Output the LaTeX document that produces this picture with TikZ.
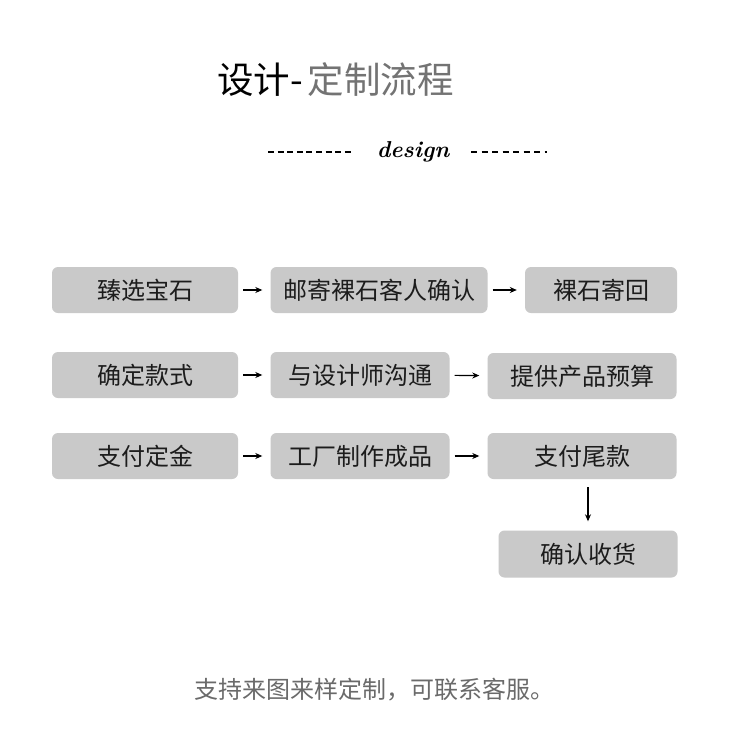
\documentclass[tikz,border=0pt]{standalone}
\usepackage{fontspec}
\newfontfamily\cjk{Noto Sans CJK SC}
\usepackage{xcolor}
\usepackage{tikz}
\usetikzlibrary{arrows.meta}

\definecolor{boxgray}{HTML}{C9C9C9}
\definecolor{textdark}{HTML}{1C1C1C}
\definecolor{titlegray}{HTML}{737373}
\definecolor{notegray}{HTML}{6A6A6A}

\begin{document}
\begin{tikzpicture}[
    x=1pt, y=-1pt,
    box/.style={fill=boxgray, rounded corners=6pt, minimum height=46pt,
                inner sep=0pt, text=textdark,
                font=\cjk\fontsize{24}{24}\selectfont},
    arrow/.style={-{Stealth[length=7pt,width=6pt]}, line width=1.1pt,
                  shorten <=5pt, shorten >=8pt}
]
\useasboundingbox[fill=white] (0,0) rectangle (750,750);

% title
\node[anchor=west, inner sep=0pt, font=\cjk\fontsize{36.5}{36.5}\selectfont] (title) at (217,80)
    {设计-\hspace{5pt}\textcolor{titlegray}{定制流程}};
\node[inner sep=0pt, font=\rmfamily\itshape\bfseries\fontsize{23}{23}\selectfont] (design) at (413,152) {design};
\coordinate (l1) at (268,152);
\coordinate (r2) at (547,152);
\draw[line width=1.1pt, dash pattern=on 6pt off 3.6pt] (l1) -- (design.west -| 353,0);
\draw[line width=1.1pt, dash pattern=on 6pt off 4.5pt] (design.east -| 471,0) -- (r2);

% row 1
\node[box, minimum width=186pt] (select) at (145,290) {臻选宝石};
\node[box, minimum width=217pt] (mail) at (379,290) {邮寄裸石客人确认};
\node[box, minimum width=152pt] (back) at (601,290) {裸石寄回};
% row 2
\node[box, minimum width=186pt] (style) at (145,375) {确定款式};
\node[box, minimum width=179pt] (talk) at (360,375) {与设计师沟通};
\node[box, minimum width=189pt] (budget) at (582,376) {提供产品预算};
% row 3
\node[box, minimum width=186pt] (deposit) at (145,456) {支付定金};
\node[box, minimum width=179pt] (make) at (360,456) {工厂制作成品};
\node[box, minimum width=189pt] (balance) at (582,456) {支付尾款};
% last step
\node[box, minimum width=179pt, minimum height=47pt] (receive) at (588,554) {确认收货};

\draw[arrow] (select) -- (mail);
\draw[arrow] (mail) -- (back);
\draw[arrow] (style) -- (talk);
\draw[arrow] (talk) -- (budget);
\draw[arrow] (deposit) -- (make);
\draw[arrow] (make) -- (balance);
\draw[arrow, shorten <=8pt, shorten >=9pt] (balance.south -| receive.north) -- (receive.north);

% note
\node[inner sep=0pt, text=notegray, font=\cjk\fontsize{24}{24}\selectfont] (note) at (374,690)
    {支持来图来样定制，可联系客服。};
\end{tikzpicture}
\end{document}
